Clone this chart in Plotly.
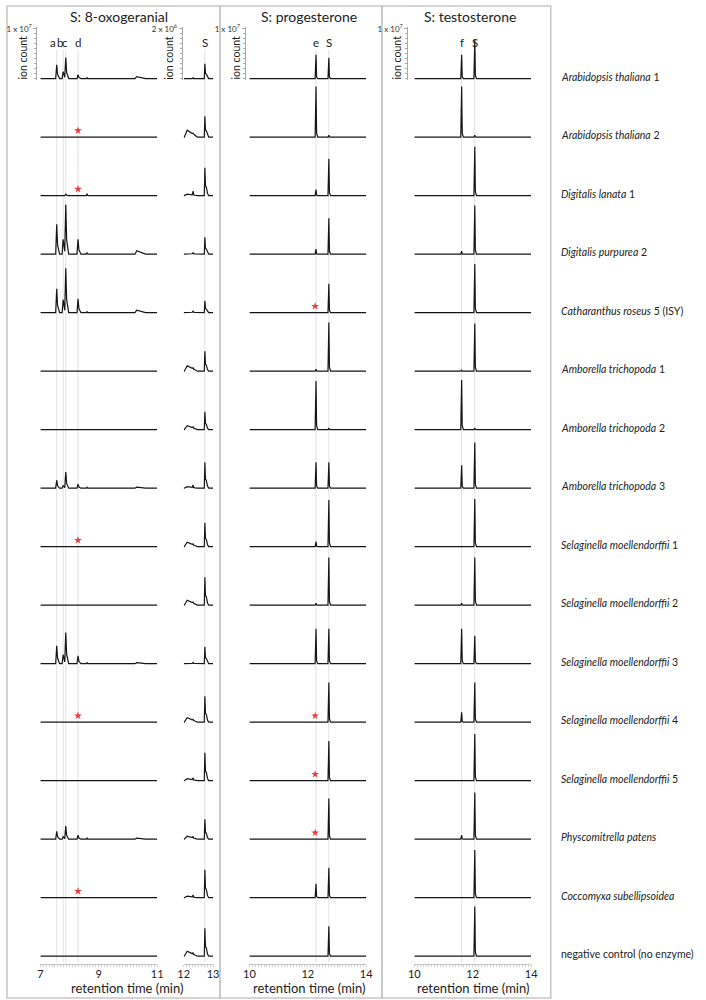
import numpy as np
import plotly.graph_objects as go

W, H = 706, 1000

# ---- data -------------------------------------------------------------
species = ["Arabidopsis thaliana", "Arabidopsis thaliana", "Digitalis lanata", "Digitalis purpurea",
           "Catharanthus roseus", "Amborella trichopoda", "Amborella trichopoda", "Amborella trichopoda",
           "Selaginella moellendorffii", "Selaginella moellendorffii", "Selaginella moellendorffii",
           "Selaginella moellendorffii", "Selaginella moellendorffii", "Physcomitrella patens",
           "Coccomyxa subellipsoidea", "negative control (no enzyme)"]
suffix = ["1", "2", "1", "2", "5 (ISY)", "1", "2", "3", "1", "2", "3", "4", "5", "", "", ""]

# 8-oxogeranial, 7-11 min window (ion count x 10^6)
oxo_rt = [7.56, 7.78, 7.87, 8.29]
oxo_labels = ["a", "b", "c", "d"]
oxo_a = [2.8, 0, 0.1, 6.0, 4.8, 0, 0, 1.6, 0, 0, 3.6, 0, 0, 1.6, 0, 0]
oxo_b = [1.4, 0, 0, 3.0, 2.6, 0, 0, 0.5, 0, 0, 1.8, 0, 0, 0.5, 0, 0]
oxo_c = [4.2, 0, 0.3, 9.8, 8.8, 0, 0, 3.2, 0.1, 0, 6.2, 0, 0, 2.6, 0.1, 0]
oxo_d = [0.8, 0, 0, 3.0, 2.8, 0, 0, 0.8, 0, 0, 1.6, 0, 0, 0.8, 0, 0]
oxo_minor_rt = 8.6
oxo_minor = [0.2, 0, 0.4, 0.3, 0.2, 0.1, 0, 0.2, 0, 0, 0.2, 0, 0, 0.3, 0.1, 0]
oxo_late_rt = 10.3
oxo_late = [0.4, 0, 0, 0.7, 0.5, 0.1, 0, 0.2, 0, 0, 0.2, 0, 0, 0.2, 0, 0]
oxo_stars = [1, 2, 8, 11, 14]

# 8-oxogeranial substrate window 12-13 min (ion count x 10^6)
sub_rt = 12.72
sub_s = [0.6, 0.84, 1.12, 0.68, 0.48, 0.8, 0.72, 1.04, 0.96, 1.12, 0.68, 1.04, 1.12, 0.8, 1.12, 1.12]
sub_hump_rt = 12.12
sub_hump = [0, 0.28, 0.06, 0.03, 0.03, 0.22, 0.16, 0.06, 0.18, 0.2, 0.03, 0.18, 0.08, 0.12, 0.06, 0.2]
sub_minor_rt = 12.32
sub_minor = [0.04, 0.04, 0.16, 0.04, 0.04, 0.04, 0.04, 0.1, 0.04, 0.04, 0.04, 0.04, 0.08, 0.06, 0.08, 0.06]

# progesterone (ion count x 10^6)
prog_rt = [12.28, 12.72]
prog_labels = ["e", "S"]
prog_e = [4.8, 10.2, 1.2, 1.0, 0, 0.4, 9.8, 5.2, 1.0, 0.4, 7.0, 0, 0, 0, 2.8, 0]
prog_s = [4.2, 0.4, 7.4, 7.2, 5.8, 9.8, 0.3, 5.2, 9.4, 9.6, 7.0, 8.0, 8.0, 8.2, 6.0, 6.0]
prog_stars = [4, 11, 12, 13]

# testosterone (ion count x 10^6)
test_rt = [11.62, 12.07]
test_labels = ["f", "S"]
test_f = [4.8, 10.2, 0, 0.6, 0, 0.2, 10.0, 4.6, 0, 0.4, 7.0, 2.0, 0, 0.8, 0, 0]
test_s = [7.8, 0.4, 9.8, 9.8, 9.8, 9.6, 0.3, 9.2, 9.6, 9.6, 5.6, 8.0, 9.4, 9.4, 9.6, 10.0]

# ---- peak shapes (offset in min, relative height) ----------------------
TAIL = ([-0.035, 0, 0.03, 0.1], [0, 1, 0.3, 0])
SHARP = ([-0.03, 0, 0.02, 0.06], [0, 1, 0.08, 0])
BROAD = ([-0.06, 0, 0.3], [0, 1, 0])
S_TAIL = ([-0.02, 0, 0.02, 0.05, 0.09, 0.13], [0, 1, 0.35, 0.3, 0.08, 0])
HUMP = ([-0.1, 0, 0.35], [0, 1, 0])


def chromatogram(lo, hi, peaks):
    xs = [float(lo), float(hi)]
    for rt, h, (dx, rel) in peaks:
        if h > 0:
            xs += [rt + d for d in dx]
    xs = np.unique(np.clip(np.array(xs, dtype=float), lo, hi))
    ys = np.zeros(len(xs), dtype=float)
    for rt, h, (dx, rel) in peaks:
        ys += h * np.interp(xs, rt + np.array(dx), rel, left=0, right=0)
    return xs, ys


def px_x(p):
    return p / W


def px_y(p):
    return 1 - p / H


n_rows = len(species)
base0, step = 74, 58.8
baselines = [base0 + i * step for i in range(n_rows)]

# columns: x domain (px), x range, y top value, y axis position, tick label, ticks
cols = [
    dict(dom=(35, 154), rng=(7, 11), top=10, yx=31, toplabel="1 x 10<sup>7</sup>", ticks=[7, 9, 11], ion_x=17),
    dict(dom=(181, 211), rng=(12, 13), top=2, yx=179, toplabel="2 x 10<sup>6</sup>", ticks=[12, 13], ion_x=166),
    dict(dom=(248, 367), rng=(10, 14), top=10, yx=243, toplabel="1 x 10<sup>7</sup>", ticks=[10, 12, 14], ion_x=234),
    dict(dom=(416, 535), rng=(10, 14), top=10, yx=409, toplabel="1 x 10<sup>7</sup>", ticks=[10, 12, 14], ion_x=398),
]


def row_peaks(c, i):
    if c == 0:
        return [(oxo_rt[0], oxo_a[i], TAIL), (oxo_rt[1], oxo_b[i], TAIL), (oxo_rt[2], oxo_c[i], TAIL),
                (oxo_rt[3], oxo_d[i], TAIL), (oxo_minor_rt, oxo_minor[i], SHARP), (oxo_late_rt, oxo_late[i], BROAD)]
    if c == 1:
        return [(sub_rt, sub_s[i], S_TAIL), (sub_hump_rt, sub_hump[i], HUMP), (sub_minor_rt, sub_minor[i], SHARP)]
    if c == 2:
        return [(prog_rt[0], prog_e[i], SHARP), (prog_rt[1], prog_s[i], SHARP)]
    return [(test_rt[0], test_f[i], SHARP), (test_rt[1], test_s[i], SHARP)]


fig = go.Figure()
layout = {}
font = "Lato, 'Open Sans', sans-serif"

for c, col in enumerate(cols):
    xname = "x" if c == 0 else f"x{c + 1}"
    layout["xaxis" if c == 0 else f"xaxis{c + 1}"] = dict(
        domain=[px_x(col["dom"][0]), px_x(col["dom"][1])], range=list(col["rng"]),
        anchor="free", position=px_y(964), showline=True, linecolor="#c4c4c4", linewidth=1,
        showgrid=False, zeroline=False, tickvals=col["ticks"], ticks="", tickfont=dict(size=11, color="#222"),
        minor=dict(dtick=0.1, ticks="outside", ticklen=2, tickcolor="#d0d0d0"), fixedrange=True)
    s = col["top"] / 10
    for i in range(n_rows):
        n = c * n_rows + i + 1
        yname = "y" if n == 1 else f"y{n}"
        b = baselines[i]
        yax = dict(domain=[px_y(b + 1.5), px_y(b - 52)], range=[-0.3 * s, 10.4 * s],
                   showgrid=False, zeroline=False, fixedrange=True)
        if i == 0:
            yax.update(anchor="free", position=px_x(col["yx"]), showline=True, linecolor="#a8a8a8",
                       linewidth=1, ticks="outside", ticklen=3, tickcolor="#a8a8a8",
                       tickvals=[col["top"]], ticktext=[col["toplabel"]],
                       tickfont=dict(size=8, color="#333"),
                       minor=dict(dtick=s, tick0=0, ticks="outside", ticklen=2, tickcolor="#a8a8a8"))
        else:
            yax.update(visible=False, anchor=xname)
        layout["yaxis" if n == 1 else f"yaxis{n}"] = yax

        xs, ys = chromatogram(col["rng"][0], col["rng"][1], row_peaks(c, i))
        fig.add_trace(go.Scatter(x=xs, y=ys, xaxis=xname, yaxis=yname, mode="lines",
                                 line=dict(color="#151515", width=1.2), hoverinfo="skip", showlegend=False))

    # red stars
    stars, star_x = [], None
    if c == 0:
        stars, star_x = oxo_stars, oxo_rt[3]
    elif c == 2:
        stars, star_x = prog_stars, prog_rt[0] - 0.03
    for i in stars:
        n = c * n_rows + i + 1
        fig.add_trace(go.Scatter(x=[star_x], y=[1.3], xaxis=xname, yaxis=f"y{n}", mode="markers",
                                 marker=dict(symbol="star", size=6, color="#ee3b3b"),
                                 hoverinfo="skip", showlegend=False))

shapes = []
annotations = []

# panel boxes
for x0, x1 in [(1, 218), (218, 383), (383, 555)]:
    shapes.append(dict(type="rect", xref="paper", yref="paper", x0=px_x(x0), x1=px_x(x1),
                       y0=px_y(998), y1=px_y(1), line=dict(color="#c6c6c6", width=1.5), layer="below"))

# guide lines and peak letters (letters nudged apart where peaks crowd)
label_nudge = {"a": -0.11, "b": -0.1, "c": -0.01}
guides = [("x", oxo_rt, oxo_labels), ("x2", [sub_rt], ["S"]), ("x3", prog_rt, prog_labels), ("x4", test_rt, test_labels)]
for xref, rts, labs in guides:
    for rt, lab in zip(rts, labs):
        shapes.append(dict(type="line", xref=xref, yref="paper", x0=rt, x1=rt, y0=px_y(962), y1=px_y(45),
                           line=dict(color="#d8d8d8", width=0.8), layer="below"))
        annotations.append(dict(x=rt + label_nudge.get(lab, 0), y=px_y(38), xref=xref, yref="paper", text=lab,
                                showarrow=False, font=dict(size=11.5, color="#222"),
                                xanchor="center", yanchor="middle"))

# titles
for text, xc in [("S: 8-oxogeranial", 115), ("S: progesterone", 309), ("S: testosterone", 473)]:
    annotations.append(dict(x=px_x(xc), y=px_y(12), xref="paper", yref="paper", text=text, showarrow=False,
                            font=dict(size=14, color="#222"), xanchor="center", yanchor="middle"))
for xc in [123, 309, 476]:
    annotations.append(dict(x=px_x(xc), y=px_y(988), xref="paper", yref="paper", text="retention time (min)",
                            showarrow=False, font=dict(size=13, color="#222"), xanchor="center", yanchor="middle"))
for col in cols:
    annotations.append(dict(x=px_x(col["ion_x"]), y=px_y(53), xref="paper", yref="paper", text="ion count",
                            textangle=-90, showarrow=False, font=dict(size=10.5, color="#222"),
                            xanchor="center", yanchor="middle"))

# species labels
for i, (sp, suf) in enumerate(zip(species, suffix)):
    if sp.startswith("negative"):
        text = sp
    else:
        text = f"<i>{sp}</i>" + (f" {suf}" if suf else "")
    annotations.append(dict(x=px_x(563), y=px_y(baselines[i] - 2), xref="paper", yref="paper", text=text,
                            showarrow=False, font=dict(size=10.5, color="#222"), xanchor="left", yanchor="middle"))

fig.update_layout(width=W, height=H, margin=dict(l=0, r=0, t=0, b=0), paper_bgcolor="white",
                  plot_bgcolor="rgba(0,0,0,0)", font=dict(family=font), showlegend=False,
                  shapes=shapes, annotations=annotations, **layout)

fig.write_html("out.html", config={"displayModeBar": False},
               post_script="document.body.style.margin = '0';")
